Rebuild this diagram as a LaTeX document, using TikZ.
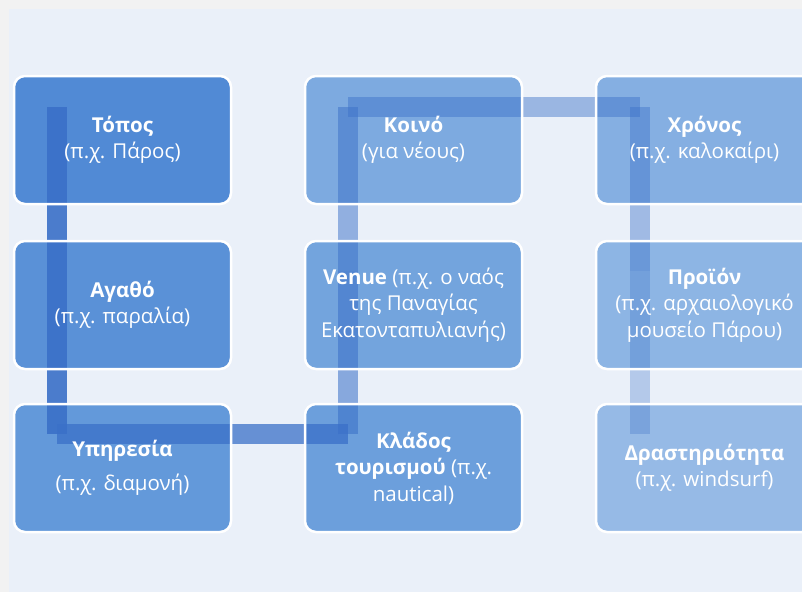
\documentclass[tikz,border=0pt]{standalone}
\usepackage{fontspec}
\setmainfont{Open Sans}
\usetikzlibrary{calc}
\definecolor{outerbg}{RGB}{242,242,242}
\definecolor{innerbg}{RGB}{234,240,249}
\definecolor{bandc}{RGB}{58,112,200}
\definecolor{c1}{RGB}{81,138,213}
\definecolor{c2}{RGB}{90,145,215}
\definecolor{c3}{RGB}{99,153,218}
\definecolor{c4}{RGB}{108,159,220}
\definecolor{c5}{RGB}{115,164,221}
\definecolor{c6}{RGB}{125,170,224}
\definecolor{c7}{RGB}{133,175,226}
\definecolor{c8}{RGB}{141,181,228}
\definecolor{c9}{RGB}{150,186,230}
\begin{document}
\begin{tikzpicture}[x=1pt,y=-1pt,
  boxfill/.style={fill=#1, draw=none, rounded corners=11pt, minimum width=217pt,
    minimum height=128pt, inner sep=0pt, outer sep=0pt, anchor=north west},
  boxtext/.style={draw=white, line width=2.5pt, rounded corners=11pt, minimum width=217pt,
    minimum height=128pt, inner sep=0pt, outer sep=0pt, text=white, align=center,
    font=\fontsize{20.5}{26.5}\selectfont},
  band/.style={draw=bandc, line width=20pt, draw opacity=#1}]
\useasboundingbox (0,0) rectangle (802,592);
\clip (0,0) rectangle (802,592);
\fill[outerbg] (0,0) rectangle (802,592);
\fill[innerbg] (9,9) rectangle (802,592);
% boxes (fill)
\node[boxfill=c1] (topos) at (14,76) {};
\node[boxfill=c2] (agatho) at (14,241) {};
\node[boxfill=c3] (ypir) at (14,404) {};
\node[boxfill=c4] (klados) at (305,404) {};
\node[boxfill=c5] (venue) at (305,241) {};
\node[boxfill=c6] (koino) at (305,76) {};
\node[boxfill=c7] (chronos) at (596,76) {};
\node[boxfill=c8] (proion) at (596,241) {};
\node[boxfill=c9] (drast) at (596,404) {};
% band points
\coordinate (a1) at ($(topos.north west)+(43,31)$);
\coordinate (a2) at ($(agatho.north west)+(43,30)$);
\coordinate (a3) at ($(ypir.north west)+(43,30)$);
\coordinate (b3) at ($(klados.north west)+(43,30)$);
\coordinate (b2) at ($(venue.north west)+(43,30)$);
\coordinate (b1) at ($(koino.north west)+(43,31)$);
\coordinate (d1) at ($(chronos.north west)+(44,31)$);
\coordinate (d2) at ($(proion.north west)+(44,30)$);
\coordinate (d3) at ($(drast.north west)+(44,30)$);
% connector bands
\draw[band=.9] (a1) -- (a2);
\draw[band=.9] (a2) -- (a3);
\draw[band=.75] (a3) -- (b3);
\draw[band=.56] (b3) -- (b2);
\draw[band=.5] (b2) -- (b1);
\draw[band=.45] (b1) -- (d1);
\draw[band=.42] (d1) -- (d2);
\draw[band=.3] (d2) -- (d3);
% borders and texts
\node[boxtext] (topos-t) at (topos.center) {\textbf{Τόπος}\\(π.χ. Πάρος)};
\node[boxtext] (agatho-t) at (agatho.center) {\textbf{Αγαθό}\\(π.χ. παραλία)};
\node[boxtext] (ypir-t) at (ypir.center) {\textbf{Υπηρεσία}\\[8pt](π.χ. διαμονή)};
\node[boxtext] (klados-t) at (klados.center) {\textbf{Κλάδος}\\\textbf{τουρισμού} (π.χ.\\nautical)};
\node[boxtext] (venue-t) at (venue.center) {\textbf{Venue} (π.χ. ο ναός\\της Παναγίας\\Εκατονταπυλιανής)};
\node[boxtext] (koino-t) at (koino.center) {\textbf{Κοινό}\\(για νέους)};
\node[boxtext] (chronos-t) at (chronos.center) {\textbf{Χρόνος}\\(π.χ. καλοκαίρι)};
\node[boxtext] (proion-t) at (proion.center) {\textbf{Προϊόν}\\(π.χ. αρχαιολογικό\\μουσείο Πάρου)};
\node[boxtext] (drast-t) at (drast.center) {\textbf{Δραστηριότητα}\\(π.χ. windsurf)};
\end{tikzpicture}
\end{document}
